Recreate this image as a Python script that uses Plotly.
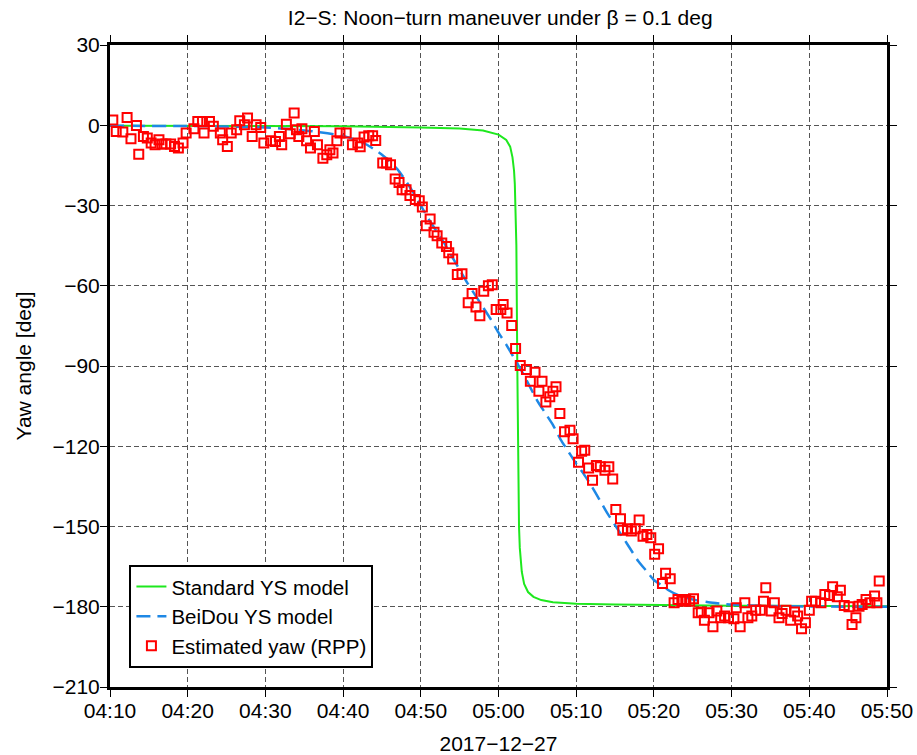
import pandas as pd
import plotly.graph_objects as go

BASE = pd.Timestamp("2017-12-27 04:10:00")

# Estimated yaw (RPP): minutes after 04:10, yaw [deg]
est_min = [0.36, 0.8, 1.65, 2.2, 2.7, 3.4, 3.7, 4.3, 4.8, 5.3, 5.8, 6.3, 6.7, 7.2, 7.8, 8.3, 8.8, 9.4, 9.8,
           10.8, 11.3, 11.9, 12.1, 12.8, 13.3, 14.2, 14.5, 15.1, 15.6, 16.3, 16.7, 17.3, 17.7, 18.3, 18.8,
           19.4, 19.8, 20.7, 21.3, 21.8, 22.1, 22.7, 23.2, 23.7, 24.0, 24.3, 24.7, 25.3, 25.8, 26.3, 26.7,
           27.4, 27.9, 28.3, 28.7, 29.2, 29.6, 30.4, 31.2, 31.9, 32.2, 32.7, 33.3, 33.8, 34.2, 35.1, 35.6,
           36.1, 36.7, 37.2, 37.6, 38.1, 38.6, 39.3, 39.8, 40.2, 40.7, 41.2, 41.7, 42.1, 42.7, 43.3, 43.6,
           44.1, 44.7, 45.3, 46.1, 46.6, 47.1, 47.6, 48.1, 48.7, 49.2, 49.7, 50.3, 50.6, 51.1, 51.7, 52.2,
           52.8, 53.6, 54.1, 54.7, 55.2, 55.6, 56.1, 56.6, 57.0, 57.4, 57.9, 58.5, 59.2, 59.6, 60.3, 60.7,
           61.1, 61.6, 62.1, 62.6, 63.1, 63.7, 64.2, 64.7, 65.1, 65.7, 66.0, 66.6, 67.1, 67.6, 68.1, 68.6,
           69.1, 69.6, 70.1, 70.6, 71.1, 71.5, 72.1, 72.6, 73.1, 73.6, 74.1, 74.6, 75.1, 75.7, 76.1, 76.5,
           77.1, 77.6, 78.1, 78.6, 79.1, 79.6, 80.3, 80.6, 81.1, 81.7, 82.1, 82.6, 83.1, 83.7, 84.1, 84.4,
           85.1, 85.5, 86.1, 86.5, 87.0, 87.6, 88.1, 88.5, 89.0, 89.5, 90.0, 90.3, 90.8, 91.5, 92.0, 92.6,
           93.0, 93.6, 94.0, 94.5, 95.1, 95.5, 96.0, 96.4, 96.8, 97.3, 97.8, 98.4, 98.7, 99.0]
est_yaw = [2.0, -2.3, -2.5, 2.9, -5.0, -0.1, -10.8, -4.2, -4.8, -6.6, -7.3, -5.4, -7.0, -7.0, -7.0, -7.9, -8.5, -6.6, -2.9,
           -1.3, 1.4, 1.4, -2.9, 1.4, -0.4, -2.9, -5.4, -7.9, -2.9, -1.7, 1.7, 0.2, 2.7, -4.2, 0.2,
           -0.8, -6.6, -5.8, -6.1, -4.2, -7.3, 0.4, -3.2, 4.6, -1.7, -4.2, -1.3, -5.8, -8.5, -2.3, -7.3,
           -12.3, -11.0, -9.2, -10.4, -5.8, -2.9, -2.9, -7.3, -6.6, -8.0, -4.4, -3.9, -3.9, -5.7, -14.1, -14.1,
           -14.8, -20.1, -21.4, -24.1, -24.1, -26.3, -27.8, -28.2, -30.6, -37.6, -35.0, -40.0, -41.3, -44.0, -45.3, -47.7,
           -50.0, -55.8, -55.5, -66.4, -62.9, -67.9, -71.2, -62.1, -60.0, -59.6, -68.9, -68.9, -67.0, -70.2, -74.9, -83.5,
           -89.8, -91.3, -95.7, -92.3, -99.4, -95.7, -103.5, -101.5, -99.4, -97.8, -107.8, -114.6, -114.0, -117.2, -126.0, -121.9,
           -121.5, -128.1, -132.7, -127.2, -127.7, -129.0, -127.7, -132.2, -143.6, -147.1, -151.4, -150.8, -151.7, -150.8, -147.6, -153.6,
           -153.0, -154.2, -160.4, -158.3, -171.3, -167.5, -169.5, -178.5, -177.3, -177.9, -177.3, -177.9, -177.0, -182.2, -182.0, -185.0,
           -182.2, -187.5, -181.6, -184.1, -183.5, -184.1, -184.5, -180.4, -187.5, -178.5, -184.1, -183.5, -181.3, -181.3, -177.9, -172.9,
           -181.6, -178.5, -184.1, -182.5, -181.3, -185.0, -182.0, -183.5, -188.2, -186.0, -181.3, -177.9, -177.9, -178.5, -175.4, -175.8,
           -172.5, -176.3, -173.8, -179.5, -180.0, -186.6, -184.1, -179.8, -179.2, -177.3, -178.5, -176.0, -178.5, -170.4]

# BeiDou YS model
bds_min = [0, 10, 15, 20, 22, 24, 26, 28, 30, 31, 32, 33, 34, 35, 36, 37, 38, 39, 40, 41, 42, 43, 44, 45, 46,
           47, 48, 49, 50, 51, 52, 53, 54, 55, 56, 57, 58, 59, 60, 61, 62, 63, 64, 65, 66, 67, 68, 69, 70,
           71, 72, 73, 74, 75, 77, 80, 85, 90, 100]
bds_yaw = [-0.2, -0.3, -0.5, -0.8, -1.2, -1.7, -2.2, -3.0, -4.0, -4.8, -5.8, -7.2, -9.0, -11.0, -13.5, -16.5,
           -20.5, -25.0, -30.0, -35.0, -39.5, -44.0, -49.0, -54.0, -59.0, -63.5, -68.0, -72.5, -77.5, -82.0,
           -87.0, -92.0, -97.5, -103.0, -107.5, -112.0, -117.5, -122.0, -126.5, -130.5, -135.0, -140.0, -145.0,
           -149.5, -154.0, -158.5, -163.0, -166.5, -170.0, -172.0, -174.0, -175.5, -176.5, -177.3, -178.3,
           -179.2, -179.7, -179.9, -180.0]

# Standard YS model
std_min = [0, 10, 20, 30, 40, 45, 48, 50, 51, 51.5, 51.8, 52.0, 52.1, 52.2, 52.3, 52.42, 52.54, 52.64, 52.74,
           52.84, 53.0, 53.3, 53.8, 54.5, 55.5, 57, 60, 65, 70, 80, 100]
std_yaw = [-0.2, -0.2, -0.3, -0.4, -0.8, -1.2, -2.0, -3.5, -5.5, -8.0, -12.0, -17.0, -22.0, -30.0, -45.0, -90.0,
           -135.0, -150.0, -158.0, -163.0, -167.0, -171.5, -174.5, -176.3, -177.5, -178.3, -178.9, -179.2,
           -179.4, -179.6, -179.8]

y_ticks = [30, 0, -30, -60, -90, -120, -150, -180, -210]
x_tick_labels = ["04:10", "04:20", "04:30", "04:40", "04:50", "05:00", "05:10", "05:20", "05:30", "05:40", "05:50"]


def to_time(mins):
    return BASE + pd.to_timedelta(mins, unit="min")


FONT = "Liberation Sans, Arial, Helvetica, sans-serif"

fig = go.Figure()
fig.add_trace(go.Scatter(x=to_time(std_min), y=std_yaw, mode="lines", name="Standard YS model",
                         line=dict(color="#1ee81e", width=2)))
fig.add_trace(go.Scatter(x=to_time(bds_min), y=bds_yaw, mode="lines", name="BeiDou YS model",
                         line=dict(color="#1e88e5", width=2.5, dash="14px,7px", shape="spline", smoothing=0.6)))
fig.add_trace(go.Scatter(x=to_time(est_min), y=est_yaw, mode="markers", name="Estimated yaw (RPP)",
                         marker=dict(symbol="square-open", size=9, color="#ff0000", line=dict(width=2, color="#ff0000"))))

tick_times = [BASE + pd.Timedelta(minutes=10 * i) for i in range(len(x_tick_labels))]

fig.update_layout(
    width=917, height=755,
    margin=dict(l=110, r=30, t=45, b=68, autoexpand=False),
    paper_bgcolor="white", plot_bgcolor="white",
    font=dict(family=FONT, size=21, color="black"),
    title=dict(text="I2\u2212S: Noon\u2212turn maneuver under \u03b2 = 0.1 deg", x=0.5455, xanchor="center",
               y=0.977, yanchor="middle", font=dict(size=21)),
    showlegend=True,
    legend=dict(x=0.025, y=0.03, xanchor="left", yanchor="bottom", bgcolor="white",
                bordercolor="black", borderwidth=2, font=dict(size=20.5), tracegroupgap=0,
                itemwidth=30),
)
fig.update_xaxes(
    range=[tick_times[0], tick_times[-1]], tickvals=tick_times, ticktext=x_tick_labels,
    showline=True, linewidth=3, linecolor="black", mirror="ticks",
    ticks="outside", ticklen=7, tickwidth=1, tickcolor="black", automargin=False,
    showgrid=True, gridcolor="#555555", gridwidth=1, griddash="5px,3px", tickfont=dict(size=21),
    ticklabelstandoff=-4,
    zeroline=False, title=dict(text="2017\u221212\u221227", standoff=16, font=dict(size=21)),
)
fig.update_yaxes(
    range=[-210, 30], tickvals=y_ticks, ticktext=[str(v).replace("-", "\u2212") for v in y_ticks],
    showline=True, linewidth=3, linecolor="black", mirror="ticks",
    ticks="outside", ticklen=7, tickwidth=1, tickcolor="black", automargin=False,
    showgrid=True, gridcolor="#555555", gridwidth=1, griddash="5px,3px", tickfont=dict(size=21),
    ticklabelstandoff=-4,
    zeroline=False, title=dict(text="Yaw angle [deg]", standoff=16, font=dict(size=21)),
)

fig.write_html("out.html", config={"displayModeBar": False},
               post_script="document.body.style.margin='0';document.body.style.padding='0';")
